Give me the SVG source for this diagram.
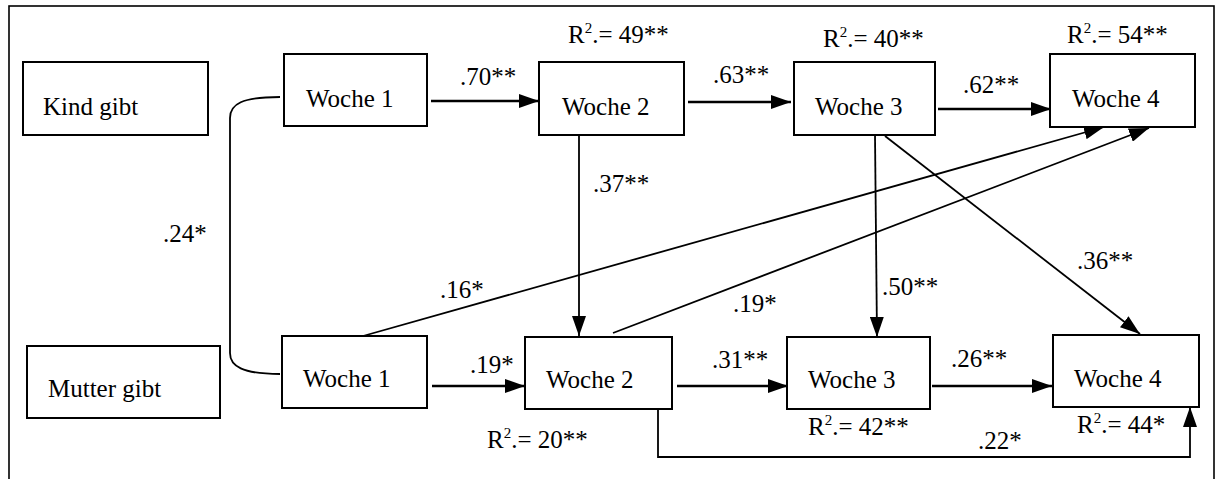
<svg xmlns="http://www.w3.org/2000/svg" width="1220" height="479" viewBox="0 0 1220 479">
<style>
.box{fill:#fff;stroke:#000;stroke-width:2}
.t{font-family:'Liberation Serif','DejaVu Serif',serif;font-size:25px;fill:#000}
.c{fill:none;stroke:#000;stroke-width:1.8}
.h{fill:none;stroke:#000;stroke-width:2.6}
</style>
<defs>
<marker id="ah" viewBox="0 0 20 14" refX="20" refY="7" markerWidth="20" markerHeight="14" markerUnits="userSpaceOnUse" orient="auto">
<path d="M0,0 L20,7 L0,14 Z" fill="#000"/>
</marker>
</defs>
<rect x="9" y="6" width="1205" height="480" fill="#fff" stroke="#000" stroke-width="1.6"/>
<g id="connectors">
<path class="c" d="M280,97 C242,97 230,104 230,118 L230,353 C230,366 242,374 280,374"/>
<path class="h" d="M431,101 L539,101" marker-end="url(#ah)"/>
<path class="h" d="M688,102 L791,102" marker-end="url(#ah)"/>
<path class="h" d="M938,109 L1051,109" marker-end="url(#ah)"/>
<path class="c" d="M579,135 L579,336" marker-end="url(#ah)"/>
<path class="c" d="M363,336 L1104,127" marker-end="url(#ah)"/>
<path class="c" d="M613,333 L1149,128" marker-end="url(#ah)"/>
<path class="c" d="M875,135 L877,337" marker-end="url(#ah)"/>
<path class="c" d="M885,136 L1140,334" marker-end="url(#ah)"/>
<path class="h" d="M432,386 L525,386" marker-end="url(#ah)"/>
<path class="h" d="M677,386 L788,386" marker-end="url(#ah)"/>
<path class="h" d="M932,386 L1052,386" marker-end="url(#ah)"/>
<path class="c" d="M658,409 L658,457 L1190,457 L1190,407" marker-end="url(#ah)"/>
</g>
<g id="labels">
<text class="t" x="163" y="242">.24*</text>
<text class="t" x="460" y="85">.70**</text>
<text class="t" x="713" y="83">.63**</text>
<text class="t" x="963" y="93">.62**</text>
<text class="t" x="593" y="192">.37**</text>
<text class="t" x="440" y="298">.16*</text>
<text class="t" x="733" y="312">.19*</text>
<text class="t" x="882" y="295">.50**</text>
<text class="t" x="1077" y="269">.36**</text>
<text class="t" x="470" y="373">.19*</text>
<text class="t" x="712" y="368">.31**</text>
<text class="t" x="951" y="367">.26**</text>
<text class="t" x="978" y="449">.22*</text>
<text class="t" x="568" y="43">R<tspan font-size="15" dy="-10">2</tspan><tspan dy="10">.= 49**</tspan></text>
<text class="t" x="823" y="47">R<tspan font-size="15" dy="-10">2</tspan><tspan dy="10">.= 40**</tspan></text>
<text class="t" x="1067" y="43">R<tspan font-size="15" dy="-10">2</tspan><tspan dy="10">.= 54**</tspan></text>
<text class="t" x="487" y="448">R<tspan font-size="15" dy="-10">2</tspan><tspan dy="10">.= 20**</tspan></text>
<text class="t" x="808" y="435">R<tspan font-size="15" dy="-10">2</tspan><tspan dy="10">.= 42**</tspan></text>
<text class="t" x="1077" y="433">R<tspan font-size="15" dy="-10">2</tspan><tspan dy="10">.= 44*</tspan></text>
</g>
<g id="kind"><rect class="box" x="23" y="62" width="185" height="73"/><text class="t" x="43" y="115">Kind gibt</text></g>
<g id="mutter"><rect class="box" x="27" y="346" width="193" height="72"/><text class="t" x="48" y="397">Mutter gibt</text></g>
<g id="k1"><rect class="box" x="284" y="54" width="143" height="72"/><text class="t" x="306" y="107">Woche 1</text></g>
<g id="k2"><rect class="box" x="539" y="62" width="145" height="73"/><text class="t" x="562" y="115">Woche 2</text></g>
<g id="k3"><rect class="box" x="794" y="62" width="141" height="73"/><text class="t" x="815" y="115">Woche 3</text></g>
<g id="k4"><rect class="box" x="1050" y="54" width="145" height="73"/><text class="t" x="1072" y="107">Woche 4</text></g>
<g id="m1"><rect class="box" x="282" y="336" width="145" height="72"/><text class="t" x="303" y="387">Woche 1</text></g>
<g id="m2"><rect class="box" x="525" y="337" width="147" height="72"/><text class="t" x="546" y="388">Woche 2</text></g>
<g id="m3"><rect class="box" x="787" y="337" width="143" height="72"/><text class="t" x="808" y="388">Woche 3</text></g>
<g id="m4"><rect class="box" x="1053" y="335" width="146" height="72"/><text class="t" x="1074" y="387">Woche 4</text></g>
</svg>
